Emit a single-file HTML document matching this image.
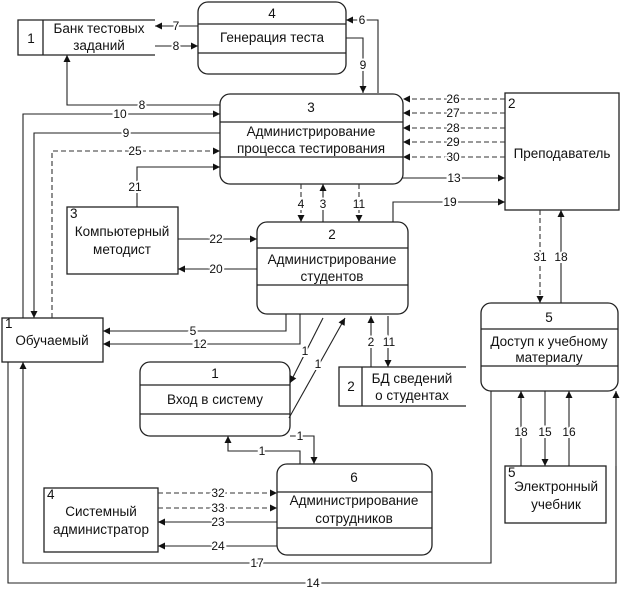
<!DOCTYPE html>
<html><head><meta charset="utf-8"><style>
html,body{margin:0;padding:0;background:#fff;}
svg{display:block;}
text{font-family:"Liberation Sans",sans-serif;font-size:13.5px;fill:#111;}
.l{font-size:12px;paint-order:stroke;stroke:#fff;stroke-width:4px;text-anchor:middle;}
.c{text-anchor:middle;}
</style></head><body>
<svg width="623" height="592" viewBox="0 0 623 592" xmlns="http://www.w3.org/2000/svg">
<defs><marker id="a" viewBox="0 0 10 10" refX="10" refY="5" markerWidth="8" markerHeight="7" markerUnits="userSpaceOnUse" orient="auto"><path d="M0,0L10,5L0,10z" fill="#111"/></marker></defs>
<g fill="none" stroke="#222" stroke-width="1.3">
<path d="M155,20H18V55H155M43,20V55"/>
<rect x="198" y="2" width="148" height="72" rx="10"/><path d="M198,24H346M198,53H346"/>
<rect x="220" y="94" width="183" height="90" rx="10"/><path d="M220,122H403M220,157H403"/>
<rect x="505" y="93" width="114" height="117"/>
<rect x="67" y="207" width="111" height="67"/>
<rect x="257" y="222" width="151" height="92" rx="10"/><path d="M257,248H408M257,285H408"/>
<rect x="2" y="318" width="101" height="44"/>
<rect x="140" y="362" width="150" height="74" rx="10"/><path d="M140,385H290M140,414H290"/>
<path d="M466,367H339V406H466M362,367V406"/>
<rect x="481" y="303" width="137" height="88" rx="10"/><path d="M481,329H618M481,366H618"/>
<rect x="277" y="464" width="155" height="91" rx="10"/><path d="M277,492H432M277,528H432"/>
<rect x="44" y="488" width="114" height="64"/>
<rect x="505" y="466" width="101" height="57"/>
</g>
<g fill="none" stroke="#222" stroke-width="1.1" marker-end="url(#a)">
<path d="M198,26H155"/>
<path d="M155,46H198"/>
<path d="M378,93V20H346"/>
<path d="M346,38H363V93"/>
<path d="M220,105H67V55"/>
<path d="M23,318V114H220"/>
<path d="M220,133H34V318"/>
<path d="M137,207V167H220"/>
<path d="M402,178H505"/>
<path d="M393,222V202H505"/>
<path d="M323,222V184"/>
<path d="M178,239H257"/>
<path d="M257,269H178"/>
<path d="M286,314V331H103"/>
<path d="M300,314V344H103"/>
<path d="M323,318L290,383"/>
<path d="M289,418L345,318"/>
<path d="M371,367V316"/>
<path d="M388,316V367"/>
<path d="M561,303V210"/>
<path d="M521,466V391"/>
<path d="M545,391V466"/>
<path d="M569,466V391"/>
<path d="M616,466V583H8V362" marker-end="none"/>
<path d="M616,583V391"/>
<path d="M491,391V563H23V362"/>
<path d="M290,436H314V464"/>
<path d="M300,464V451H228V436"/>
<path d="M277,522H158"/>
<path d="M277,546H158"/>
</g>
<g fill="none" stroke="#333" stroke-width="1.1" stroke-dasharray="5,3" marker-end="url(#a)">
<path d="M505,99H403"/><path d="M505,113H403"/><path d="M505,128H403"/><path d="M505,142H403"/><path d="M505,157H403"/>
<path d="M52,318V151H220"/>
<path d="M301,184V222"/>
<path d="M359,184V222"/>
<path d="M540,210V303"/>
<path d="M158,493H277"/>
<path d="M158,508H277"/>
</g>
<text x="31" y="43" class="c">1</text>
<text x="99" y="33" class="c">Банк тестовых</text>
<text x="99" y="50" class="c">заданий</text>
<text x="272" y="18" class="c">4</text>
<text x="272" y="42" class="c">Генерация теста</text>
<text x="311" y="112" class="c">3</text>
<text x="311" y="136" class="c">Администрирование</text>
<text x="311" y="153" class="c">процесса тестирования</text>
<text x="508" y="108">2</text>
<text x="562" y="158" class="c">Преподаватель</text>
<text x="70" y="218">3</text>
<text x="122" y="236" class="c">Компьютерный</text>
<text x="122" y="254" class="c">методист</text>
<text x="332" y="239" class="c">2</text>
<text x="332" y="264" class="c">Администрирование</text>
<text x="332" y="281" class="c">студентов</text>
<text x="5" y="328">1</text>
<text x="52" y="345" class="c">Обучаемый</text>
<text x="215" y="378" class="c">1</text>
<text x="215" y="404" class="c">Вход в систему</text>
<text x="351" y="391" class="c">2</text>
<text x="412" y="383" class="c">БД сведений</text>
<text x="412" y="400" class="c">о студентах</text>
<text x="549" y="322" class="c">5</text>
<text x="549" y="346" class="c">Доступ к учебному</text>
<text x="549" y="362" class="c">материалу</text>
<text x="354" y="482" class="c">6</text>
<text x="354" y="505" class="c">Администрирование</text>
<text x="354" y="523" class="c">сотрудников</text>
<text x="47" y="499">4</text>
<text x="101" y="516" class="c">Системный</text>
<text x="101" y="534" class="c">администратор</text>
<text x="508" y="477">5</text>
<text x="556" y="491" class="c">Электронный</text>
<text x="556" y="509" class="c">учебник</text>
<g>
<text x="176" y="30" class="l">7</text>
<text x="176" y="50" class="l">8</text>
<text x="362" y="24" class="l">6</text>
<text x="363" y="69" class="l">9</text>
<text x="142" y="109" class="l">8</text>
<text x="120" y="118" class="l">10</text>
<text x="126" y="137" class="l">9</text>
<text x="135" y="155" class="l">25</text>
<text x="135" y="191" class="l">21</text>
<text x="453" y="103" class="l">26</text>
<text x="453" y="117" class="l">27</text>
<text x="453" y="132" class="l">28</text>
<text x="453" y="146" class="l">29</text>
<text x="453" y="161" class="l">30</text>
<text x="454" y="182" class="l">13</text>
<text x="450" y="206" class="l">19</text>
<text x="301" y="208" class="l">4</text>
<text x="323" y="208" class="l">3</text>
<text x="359" y="208" class="l">11</text>
<text x="216" y="243" class="l">22</text>
<text x="216" y="273" class="l">20</text>
<text x="193" y="335" class="l">5</text>
<text x="200" y="348" class="l">12</text>
<text x="305" y="355" class="l">1</text>
<text x="318" y="368" class="l">1</text>
<text x="371" y="346" class="l">2</text>
<text x="389" y="346" class="l">11</text>
<text x="540" y="261" class="l">31</text>
<text x="561" y="261" class="l">18</text>
<text x="521" y="436" class="l">18</text>
<text x="545" y="436" class="l">15</text>
<text x="569" y="436" class="l">16</text>
<text x="300" y="440" class="l">1</text>
<text x="262" y="455" class="l">1</text>
<text x="218" y="497" class="l">32</text>
<text x="218" y="512" class="l">33</text>
<text x="218" y="526" class="l">23</text>
<text x="218" y="550" class="l">24</text>
<text x="257" y="567" class="l">17</text>
<text x="313" y="587" class="l">14</text>
</g>
</svg>
</body></html>
